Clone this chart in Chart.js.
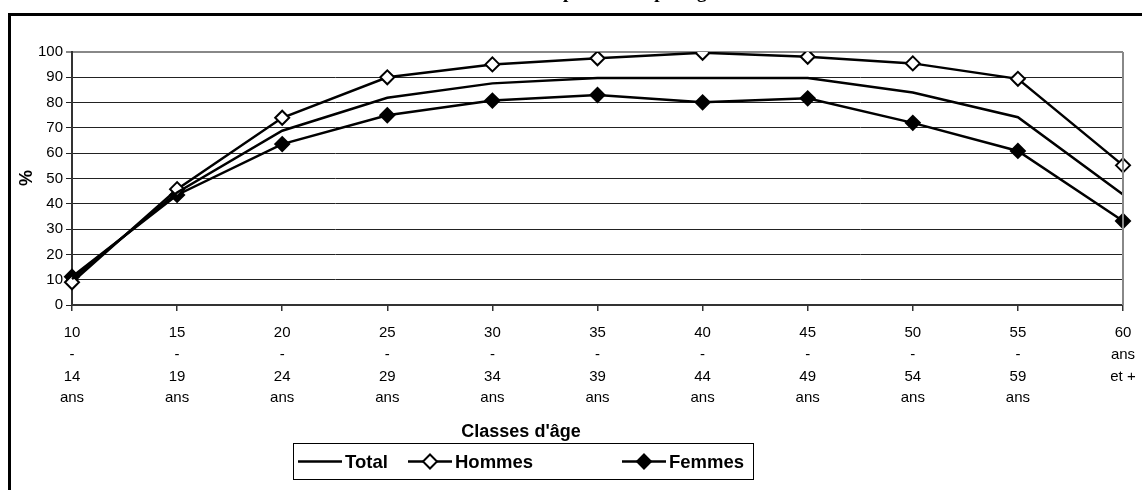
<!DOCTYPE html>
<html>
<head>
<meta charset="utf-8">
<script src="https://cdn.jsdelivr.net/npm/chart.js@4.4.1/dist/chart.umd.min.js"></script>
<style>
  html, body { margin: 0; padding: 0; background: #fff; overflow: hidden; }
  #wrap { width: 1142px; height: 490px; position: relative; }
</style>
</head>
<body>
<div id="wrap"><canvas id="c" width="1142" height="490"></canvas></div>
<script>
// Age groups (multi-line tick labels)
const categories = [
  ['10', '-', '14', 'ans'],
  ['15', '-', '19', 'ans'],
  ['20', '-', '24', 'ans'],
  ['25', '-', '29', 'ans'],
  ['30', '-', '34', 'ans'],
  ['35', '-', '39', 'ans'],
  ['40', '-', '44', 'ans'],
  ['45', '-', '49', 'ans'],
  ['50', '-', '54', 'ans'],
  ['55', '-', '59', 'ans'],
  ['60', 'ans', 'et +']
];

// Activity rates (%)
const total  = [10.3, 44.5, 68.9, 81.9, 87.6, 89.7, 89.7, 89.7, 84.0, 74.2, 43.7];
const hommes = [9.0, 45.8, 74.0, 90.0, 95.1, 97.5, 99.7, 98.1, 95.5, 89.4, 55.2];
const femmes = [11.2, 43.5, 63.6, 75.0, 80.8, 83.0, 80.1, 81.7, 72.0, 60.9, 33.2];

const yMin = 0, yMax = 100, yStep = 10;

const titleText = "Taux d'activité par sexe et par âge";
const xTitle = "Classes d'âge";
const yTitle = "%";

const decorations = {
  id: 'decorations',
  afterDraw(chart) {
    const ctx = chart.ctx;
    const area = chart.chartArea;
    ctx.save();

    // title (sits above the frame, mostly clipped by the page edge)
    ctx.fillStyle = '#000';
    ctx.font = 'bold 19px "Liberation Serif", serif';
    ctx.textBaseline = 'alphabetic';
    ctx.textAlign = 'left';
    const pre = ctx.measureText("Taux d'activité ").width;
    ctx.fillText(titleText, 563 - pre, -2);

    // outer frame
    ctx.strokeStyle = '#000';
    ctx.lineWidth = 3;
    ctx.strokeRect(9.5, 14.5, 1300, 600);

    // right edge of plot area
    ctx.strokeStyle = '#888';
    ctx.lineWidth = 2;
    ctx.beginPath();
    ctx.moveTo(area.right, area.top);
    ctx.lineTo(area.right, area.bottom);
    ctx.stroke();

    // axis titles
    ctx.fillStyle = '#000';
    ctx.font = 'bold 18px "Liberation Sans", Arial, sans-serif';
    ctx.textAlign = 'center';
    ctx.textBaseline = 'middle';
    ctx.fillText(xTitle, 521, 432);
    ctx.save();
    ctx.translate(27, 178);
    ctx.rotate(-Math.PI / 2);
    ctx.fillText(yTitle, 0, 0);
    ctx.restore();

    // legend box
    const bx = 293, by = 443, bw = 460, bh = 36;
    ctx.fillStyle = '#fff';
    ctx.fillRect(bx, by, bw, bh);
    ctx.strokeStyle = '#000';
    ctx.lineWidth = 1;
    ctx.strokeRect(bx + 0.5, by + 0.5, bw, bh);

    const cy = by + bh / 2 + 0.5;
    const starts = [298, 408, 622];
    const sampleLen = 44;
    ctx.font = 'bold 18.5px "Liberation Sans", Arial, sans-serif';
    ctx.textAlign = 'left';
    ctx.textBaseline = 'middle';
    chart.data.datasets.forEach((ds, i) => {
      const x0 = starts[i];
      ctx.strokeStyle = '#000';
      ctx.lineWidth = 2.5;
      ctx.beginPath();
      ctx.moveTo(x0, cy);
      ctx.lineTo(x0 + sampleLen, cy);
      ctx.stroke();
      if (ds.pointRadius > 0) {
        const mx = x0 + sampleLen / 2, r = ds.pointRadius;
        ctx.beginPath();
        ctx.moveTo(mx, cy - r);
        ctx.lineTo(mx + r, cy);
        ctx.lineTo(mx, cy + r);
        ctx.lineTo(mx - r, cy);
        ctx.closePath();
        ctx.fillStyle = ds.pointBackgroundColor;
        ctx.fill();
        ctx.lineWidth = ds.pointBorderWidth;
        ctx.stroke();
      }
      ctx.fillStyle = '#000';
      ctx.fillText(ds.label, x0 + sampleLen + 3, cy + 1);
    });

    ctx.restore();
  }
};

new Chart(document.getElementById('c'), {
  type: 'line',
  data: {
    labels: categories,
    datasets: [
      {
        label: 'Total',
        data: total,
        borderColor: '#000',
        borderWidth: 2.5,
        pointRadius: 0,
        pointHoverRadius: 0,
        tension: 0
      },
      {
        label: 'Hommes',
        data: hommes,
        borderColor: '#000',
        borderWidth: 2.5,
        pointStyle: 'rectRot',
        pointRadius: 7,
        pointBackgroundColor: '#fff',
        pointBorderColor: '#000',
        pointBorderWidth: 2,
        tension: 0
      },
      {
        label: 'Femmes',
        data: femmes,
        borderColor: '#000',
        borderWidth: 2.5,
        pointStyle: 'rectRot',
        pointRadius: 7,
        pointBackgroundColor: '#000',
        pointBorderColor: '#000',
        pointBorderWidth: 2,
        tension: 0
      }
    ]
  },
  options: {
    responsive: false,
    animation: false,
    devicePixelRatio: 1,
    layout: { padding: { top: 52, right: 19, left: 0, bottom: 0 } },
    plugins: {
      legend: { display: false },
      title: { display: false },
      tooltip: { enabled: false }
    },
    scales: {
      x: {
        type: 'category',
        offset: false,
        afterFit(s) { s.height = 185; s.paddingLeft = 0; s.paddingRight = 0; },
        grid: {
          drawOnChartArea: false,
          drawTicks: true,
          tickLength: 6,
          color: '#333',
          lineWidth: 1.5
        },
        border: { display: true, color: '#333', width: 2 },
        ticks: {
          autoSkip: false,
          maxRotation: 0,
          minRotation: 0,
          padding: 11,
          color: '#000',
          font: { family: '"Liberation Sans", Arial, sans-serif', size: 15, lineHeight: 1.45 }
        }
      },
      y: {
        min: yMin,
        max: yMax,
        afterFit(s) { s.width = 72; s.paddingTop = 0; s.paddingBottom = 0; },
        grid: {
          color: (c) => (c.tick && c.tick.value === yMax) ? '#888' : '#222',
          lineWidth: (c) => (c.tick && c.tick.value === yMax) ? 2 : 1,
          tickLength: 6
        },
        border: { display: true, color: '#333', width: 2 },
        ticks: {
          stepSize: yStep,
          padding: 3,
          color: '#000',
          font: { family: '"Liberation Sans", Arial, sans-serif', size: 15 }
        }
      }
    }
  },
  plugins: [decorations]
});
</script>
</body>
</html>
